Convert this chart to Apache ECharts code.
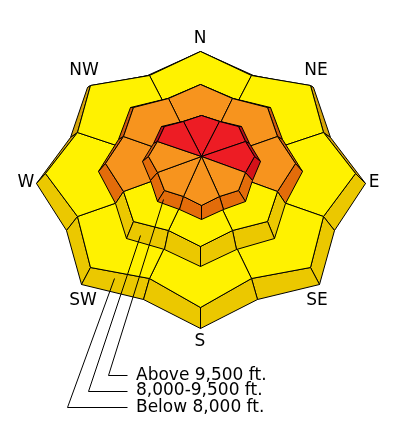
<!DOCTYPE html>
<html>
<head>
<meta charset="utf-8">
<script src="https://cdn.jsdelivr.net/npm/echarts@6/dist/echarts.min.js"></script>
<style>
  html, body { margin: 0; padding: 0; background: #ffffff; }
  #chart { width: 400px; height: 440px; }
</style>
</head>
<body>
<div id="chart"></div>
<script>
// Aspects, clockwise from north
const aspects = ['N', 'NE', 'E', 'SE', 'S', 'SW', 'W', 'NW'];
// Elevation bands, lowest first
const bands = ['Below 8,000 ft.', '8,000-9,500 ft.', 'Above 9,500 ft.'];
// Danger rating per aspect for each band (1 Low, 2 Moderate, 3 Considerable, 4 High, 5 Extreme)
const dangerBelow  = [2, 2, 2, 2, 2, 2, 2, 2];
const dangerMiddle = [3, 3, 3, 2, 2, 2, 3, 3];
const dangerAbove  = [4, 4, 4, 3, 3, 3, 3, 4];

// Colours per rating: [top face, south-facing wall, north-facing wall]
const dangerPalette = {
  1: ['#50B848', '#3F9A3A', '#2F7F2C'],
  2: ['#FFF200', '#EBC800', '#D6A50A'],
  3: ['#F7941E', '#E36C0A', '#CD5A0F'],
  4: ['#ED1C24', '#D41119', '#B8101A'],
  5: ['#231F20', '#111111', '#000000']
};

// Stacked slab geometry, one per band (screen units of the hidden 400x440 axes)
const slabs = [
  { cx: 200, cy: 173, rx: 155, ry: 128, q: 6, v: 0.86, ex: 9.5, d0: 9.5, d1: 11.5 },
  { cx: 200, cy: 163, rx: 95,  ry: 81,  q: 2, v: 0.88, ex: 7,   d0: 8,   d1: 12 },
  { cx: 201, cy: 156, rx: 53,  ry: 45,  q: 4, v: 0.90, ex: 6,   d0: 5,   d1: 9 }
];
// Where each band's leader line touches its slab wall: [angle, wall fraction]
const leaderAnchor = [[235, 0.3], [232, 0.65], [229, 0.65]];
const legendRowY = [407, 390.5, 375];
const legendElbowX = [67, 88, 108];
const legendLineEndX = 127;
const legendTextX = 136;

const bandDanger = [dangerBelow, dangerMiddle, dangerAbove];
const RAD = Math.PI / 180;

function topPt(L, deg, r) {
  const c = Math.cos(deg * RAD), s = Math.sin(deg * RAD);
  return [L.cx + L.rx * r * c, L.cy - L.ry * r * s + L.q * (r * s) * (r * s)];
}
// Offset from a slab's top outline to its base outline (walls lean out toward the viewer)
function wallShift(L, deg) {
  const c = Math.cos(deg * RAD), s = Math.sin(deg * RAD);
  return [L.ex * c * (1 - 0.6 * s), Math.max(0, L.d0 - L.d1 * s)];
}
function basePt(L, deg, r) {
  const p = topPt(L, deg, r), w = wallShift(L, deg);
  return [p[0] + w[0], p[1] + w[1]];
}
// Point on the star outline (top edge) at a given angle
function edgePt(L, deg) {
  const tipIdx = Math.floor((deg + 22.5) / 45);
  const tipA = tipIdx * 45; // tips lie at multiples of 45 deg
  let a1, r1, a2, r2;
  if (deg >= tipA) { a1 = tipA; r1 = 1; a2 = tipA + 22.5; r2 = L.v; }
  else { a1 = tipA - 22.5; r1 = L.v; a2 = tipA; r2 = 1; }
  const t = (deg - a1) / (a2 - a1);
  const p1 = topPt(L, a1, r1), p2 = topPt(L, a2, r2);
  return [p1[0] + (p2[0] - p1[0]) * t, p1[1] + (p2[1] - p1[1]) * t];
}
function northFacing(a1, r1, a2, r2) {
  const p1 = [r1 * Math.cos(a1 * RAD), r1 * Math.sin(a1 * RAD)];
  const p2 = [r2 * Math.cos(a2 * RAD), r2 * Math.sin(a2 * RAD)];
  let n = [p2[1] - p1[1], -(p2[0] - p1[0])];
  if (n[0] * (p1[0] + p2[0]) + n[1] * (p1[1] + p2[1]) < 0) n = [-n[0], -n[1]];
  return n[1] > 0;
}

const slabData = [];
bands.forEach((b, bi) => {
  aspects.forEach((a, ai) => slabData.push([bi, ai, bandDanger[bi][ai]]));
});

function renderSector(params, api) {
  const bi = api.value(0), ai = api.value(1), level = api.value(2);
  const L = slabs[bi];
  const pal = dangerPalette[level];
  const th = 90 - 45 * ai;
  const aL = th + 22.5, aR = th - 22.5;
  const P = (p) => api.coord(p).map(v => Math.round(v) + 0.5);
  const children = [];
  const faces = [[aL, L.v, th, 1], [th, 1, aR, L.v]];
  faces.forEach(f => {
    const [a1, r1, a2, r2] = f;
    const pts = [topPt(L, a1, r1), topPt(L, a2, r2), basePt(L, a2, r2), basePt(L, a1, r1)].map(P);
    const mid = (a1 + a2) / 2;
    children.push({
      type: 'polygon',
      z2: bi * 100 + 10 - 5 * Math.sin(mid * RAD),
      shape: { points: pts },
      style: { fill: northFacing(a1, r1, a2, r2) ? pal[2] : pal[1], stroke: '#000', lineWidth: 1, lineJoin: 'round' }
    });
  });
  const topPts = [[L.cx, L.cy], topPt(L, aR, L.v), topPt(L, th, 1), topPt(L, aL, L.v)].map(P);
  children.push({
    type: 'polygon',
    z2: bi * 100 + 50,
    shape: { points: topPts },
    style: { fill: pal[0], stroke: '#000', lineWidth: 1, lineJoin: 'round' }
  });
  return { type: 'group', children: children };
}

function renderAspectLabel(params, api) {
  const ai = api.value(0);
  const L = slabs[0];
  const th = 90 - 45 * ai;
  const c = Math.cos(th * RAD), s = Math.sin(th * RAD);
  let x, y;
  if (Math.abs(c) > 0.9) {
    const b = basePt(L, th, 1);
    x = b[0] + Math.sign(c) * 9.5; y = b[1] + 0.5;
  } else if (s > 0) {
    const t = topPt(L, th, 1);
    x = t[0] + 9 * c; y = t[1] - 12 - 4.2 * Math.abs(c);
  } else {
    const b = basePt(L, th, 1);
    x = b[0] - 3 * c; y = b[1] + 14 + 2.8 * Math.abs(c);
  }
  const p = api.coord([x, y]);
  return {
    type: 'text', z2: 1000, x: p[0], y: p[1],
    style: { text: aspects[ai], fill: '#000', font: '17px "DejaVu Sans"', align: 'center', verticalAlign: 'middle' }
  };
}

function renderLegendRow(params, api) {
  const bi = api.value(0);
  const L = slabs[bi];
  const [ang, frac] = leaderAnchor[bi];
  const e = edgePt(L, ang), w = wallShift(L, ang);
  const anchor = [e[0] + w[0] * frac, e[1] + w[1] * frac];
  const y = legendRowY[bi];
  const pts = [anchor, [legendElbowX[bi], y], [legendLineEndX, y]]
    .map(p => api.coord(p).map(v => Math.round(v) + 0.5));
  const tp = api.coord([legendTextX, y + 0.5]);
  return {
    type: 'group',
    children: [
      { type: 'polyline', z2: 900, shape: { points: pts }, style: { stroke: '#000', lineWidth: 1, fill: null } },
      { type: 'text', z2: 1000, x: tp[0], y: tp[1],
        style: { text: bands[bi], fill: '#000', font: '17px "DejaVu Sans"', align: 'left', verticalAlign: 'middle' } }
    ]
  };
}

const chart = echarts.init(document.getElementById('chart'), null, { renderer: 'canvas' });
chart.setOption({
  animation: false,
  backgroundColor: '#ffffff',
  grid: { left: 0, right: 0, top: 0, bottom: 0 },
  xAxis: { type: 'value', min: 0, max: 400, show: false },
  yAxis: { type: 'value', min: 0, max: 440, inverse: true, show: false },
  series: [
    { type: 'custom', name: 'slabs', clip: false, renderItem: renderSector, data: slabData },
    { type: 'custom', name: 'aspects', clip: false, renderItem: renderAspectLabel, data: aspects.map((a, i) => [i]) },
    { type: 'custom', name: 'legend', clip: false, renderItem: renderLegendRow, data: bands.map((b, i) => [i]) }
  ]
});
</script>
</body>
</html>
